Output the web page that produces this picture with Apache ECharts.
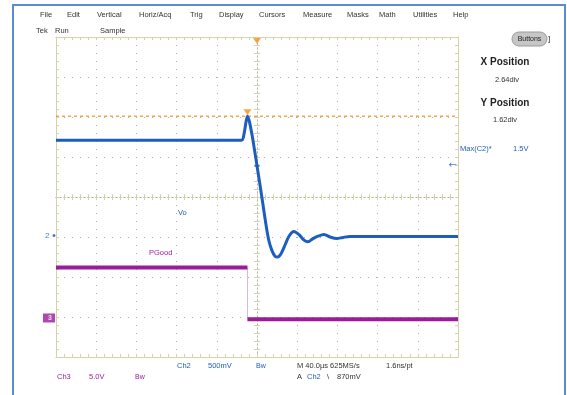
<!DOCTYPE html>
<html><head><meta charset="utf-8">
<script src="https://cdn.jsdelivr.net/npm/echarts@6/dist/echarts.min.js"></script>
<style>html,body{margin:0;padding:0;background:#fff}#c{width:567px;height:395px}</style>
</head><body><div id="c"></div>
<script>
// ---- data (time in µs relative to trigger, 40 µs/div) ----
const timeMin = -200, timeMax = 200, timeDiv = 40;
// Ch2 : Vo (volts), 500 mV/div
const voTime = [-200, -15.4, -12.9, -10.9, -9.5, -7.5, -5.0, -2.5, 0, 3.0, 6.0, 9.0, 11.9, 14.9, 17.9, 20.6, 23.9, 27.9, 31.8, 36.8, 41.8, 46.8, 50.7, 55.7, 60.7, 66.7, 72.6, 79.3, 85.6, 92.5, 200];
const voVolt = [1.19, 1.19, 1.27, 1.42, 1.49, 1.42, 1.26, 1.07, 0.87, 0.63, 0.38, 0.13, -0.07, -0.19, -0.26, -0.27, -0.23, -0.12, -0.01, 0.05, 0.01, -0.06, -0.08, -0.04, -0.01, 0.01, -0.02, -0.04, -0.025, -0.013, -0.015];
// Ch3 : PGood (volts), 5 V/div
const pgHighTime = [-200, -9.5];
const pgHighVolt = [6.3, 6.3];
const pgLowTime = [-9.5, 200];
const pgLowVolt = [-0.15, -0.15];
const pgEdgeTime = [-9.5, -9.5];
const pgEdgeVolt = [6.3, -0.15];
// cursor / trigger
const maxC2 = 1.49;        // Max(C2) ≈ 1.5 V
const trigLevel = 0.87;    // A Ch2 falling 870 mV
const peakTime = -9.5;
// vertical scales (divisions and channel offsets)
const divMin = -4, divMax = 4;
const ch2Min = -1.52, ch2Max = 2.48;
const ch3Min = -4.875, ch3Max = 35.125;

const BORDER = '#d6d3a9', DOT = '#b4b2a2', BLUE = '#1d5dbf', PURPLE = '#9c1b9b', ORANGE = '#f29022';
const zip = (a, b) => a.map((v, i) => [v, b[i]]);
const FONT = '"Liberation Sans", Arial, sans-serif';

function xAx(grid, pos, opts) {
  return Object.assign({
    type: 'value', gridIndex: grid, position: pos, min: timeMin, max: timeMax, interval: timeDiv,
    axisLabel: { show: false },
    axisLine: { show: true, onZero: false, lineStyle: { color: BORDER, width: 1 } },
    axisTick: { show: true, inside: true, length: 3, lineStyle: { color: BORDER } },
    minorTick: { show: true, splitNumber: 5, length: 3, lineStyle: { color: BORDER } },
    splitLine: { show: false }
  }, opts);
}
function yAx(grid, pos, opts) {
  return Object.assign({
    type: 'value', gridIndex: grid, position: pos, min: divMin, max: divMax, interval: 1,
    axisLabel: { show: false },
    axisLine: { show: true, onZero: false, lineStyle: { color: BORDER, width: 1 } },
    axisTick: { show: true, inside: true, length: 3, lineStyle: { color: BORDER } },
    minorTick: { show: true, splitNumber: 5, length: 3, lineStyle: { color: BORDER } },
    splitLine: { show: false }
  }, opts);
}
const dotted = { show: true, lineStyle: { color: DOT, width: 1, type: [1, 7], dashOffset: 0 } };
const centerLine = (inside) => ({ show: true, onZero: true, lineStyle: { color: DOT, width: 1, type: [1, 3] } });

const rect = { left: 56, top: 37, width: 402, height: 320 };

function txt(x, y, text, color, size, opts) {
  return Object.assign({
    type: 'text', x: x, y: y, silent: true,
    style: Object.assign({ text: text, fill: color || '#333', font: (size || 7.5) + 'px ' + FONT, align: 'left', verticalAlign: 'middle' }, {})
  }, opts || {});
}
function txtB(x, y, text, size, align) {
  const t = txt(x, y, text, '#222', size);
  t.style.font = 'bold ' + size + 'px ' + FONT;
  t.style.align = align || 'left';
  return t;
}

const graphics = [
  { type: 'polyline', silent: true, shape: { points: [[13, 395], [13, 5], [565, 5], [565, 395]] }, style: { stroke: '#5b8bd0', lineWidth: 2, fill: null } },
  txt(40, 15, 'File'), txt(67, 15, 'Edit'), txt(97, 15, 'Vertical'), txt(139, 15, 'Horiz/Acq'),
  txt(190, 15, 'Trig'), txt(219, 15, 'Display'), txt(259, 15, 'Cursors'), txt(303, 15, 'Measure'),
  txt(347, 15, 'Masks'), txt(379, 15, 'Math'), txt(413, 15, 'Utilities'), txt(453, 15, 'Help'),
  txt(36, 31, 'Tek'), txt(55, 31, 'Run'), txt(100, 31, 'Sample'),
  { type: 'rect', silent: true, shape: { x: 512, y: 32, width: 35, height: 14, r: 7 }, style: { fill: '#c6c6c6', stroke: '#9a9a9a', lineWidth: 1 } },
  (function () { const t = txt(529.5, 39, 'Buttons', '#222', 7); t.style.align = 'center'; return t; })(),
  txt(548, 39, ']', '#222', 8),
  txtB(505, 62, 'X Position', 10, 'center'),
  (function () { const t = txt(507, 80, '2.64div', '#333', 7.5); t.style.align = 'center'; return t; })(),
  txtB(505, 103, 'Y Position', 10, 'center'),
  (function () { const t = txt(505, 120, '1.62div', '#333', 7.5); t.style.align = 'center'; return t; })(),
  txt(460, 149, 'Max(C2)*', BLUE, 7.5), txt(513, 149, '1.5V', BLUE, 7.5),
  txt(178, 213, 'Vo', BLUE, 7.5), txt(149, 253, 'PGood', PURPLE, 7.5),
  txt(57, 377, 'Ch3', PURPLE, 7.5), txt(89, 377, '5.0V', PURPLE, 7.5), txt(135, 377, 'Bw', PURPLE, 7),
  txt(177, 366, 'Ch2', BLUE, 7.5), txt(208, 366, '500mV', BLUE, 7.5), txt(256, 366, 'Bw', BLUE, 7),
  txt(297, 366, 'M 40.0µs 625MS/s', '#333', 7.5), txt(386, 366, '1.6ns/pt', '#333', 7.5),
  txt(297, 377, 'A', '#333', 7.5), txt(307, 377, 'Ch2', BLUE, 7.5), txt(327, 377, '\\', '#333', 7.5), txt(337, 377, '870mV', '#333', 7.5)
];

const option = {
  animation: false,
  backgroundColor: '#ffffff',
  grid: [Object.assign({}, rect), Object.assign({}, rect), Object.assign({}, rect)],
  xAxis: [
    xAx(0, 'bottom', { splitLine: dotted }),
    xAx(0, 'top', {}),
    xAx(1, 'bottom', { axisLine: centerLine(true), axisTick: { show: true, inside: true, length: 3, lineStyle: { color: BORDER } } }),
    xAx(2, 'bottom', { axisLine: centerLine(false), axisTick: { show: true, inside: false, length: 3, lineStyle: { color: BORDER } } })
  ],
  yAxis: [
    yAx(0, 'left', { splitLine: dotted }),
    yAx(0, 'right', {}),
    { type: 'value', gridIndex: 0, show: false, min: ch2Min, max: ch2Max, axisLine: { onZero: false } },
    { type: 'value', gridIndex: 0, show: false, min: ch3Min, max: ch3Max, axisLine: { onZero: false } },
    yAx(1, 'left', { axisLine: centerLine(true), axisTick: { show: true, inside: true, length: 3, lineStyle: { color: BORDER } } }),
    yAx(2, 'left', { axisLine: centerLine(false), axisTick: { show: true, inside: false, length: 3, lineStyle: { color: BORDER } } })
  ],
  series: [
    { type: 'line', xAxisIndex: 0, yAxisIndex: 2, data: zip([timeMin, timeMax], [maxC2, maxC2]), symbol: 'none', silent: true,
      lineStyle: { color: ORANGE, width: 1.2, type: [3, 3] } },
    { type: 'line', xAxisIndex: 0, yAxisIndex: 3, data: zip(pgEdgeTime, pgEdgeVolt), symbol: 'none', silent: true,
      lineStyle: { color: '#d7b6d7', width: 1 } },
    { type: 'line', xAxisIndex: 0, yAxisIndex: 3, data: zip(pgHighTime, pgHighVolt), symbol: 'none', silent: true,
      lineStyle: { color: PURPLE, width: 4 } },
    { type: 'line', xAxisIndex: 0, yAxisIndex: 3, data: zip(pgLowTime, pgLowVolt), symbol: 'none', silent: true,
      lineStyle: { color: PURPLE, width: 4 } },
    { type: 'line', xAxisIndex: 0, yAxisIndex: 2, data: zip(voTime, voVolt), symbol: 'none', silent: true, smooth: 0.3,
      lineStyle: { color: BLUE, width: 3 } },
    // markers
    { type: 'scatter', xAxisIndex: 0, yAxisIndex: 2, silent: true, clip: false, z: 5,
      data: [[peakTime, maxC2]], symbol: 'triangle', symbolRotate: 180, symbolSize: [8, 6], symbolOffset: [0, -4],
      itemStyle: { color: ORANGE } },
    { type: 'scatter', xAxisIndex: 0, yAxisIndex: 2, silent: true, clip: false, z: 5,
      data: [[0, ch2Max]], symbol: 'triangle', symbolRotate: 180, symbolSize: [8, 6], symbolOffset: [0, 4],
      itemStyle: { color: ORANGE } },
    { type: 'scatter', xAxisIndex: 0, yAxisIndex: 2, silent: true, clip: false, z: 5,
      data: [[0, trigLevel]], symbol: 'rect', symbolSize: [5, 2], itemStyle: { color: BLUE } },
    { type: 'scatter', xAxisIndex: 0, yAxisIndex: 2, silent: true, clip: false, z: 5,
      data: [[timeMax, trigLevel]], symbol: 'circle', symbolSize: 0,
      label: { show: true, position: 'left', distance: 1, formatter: '←', color: BLUE, fontSize: 10, fontFamily: 'DejaVu Sans' } },
    { type: 'scatter', xAxisIndex: 0, yAxisIndex: 2, silent: true, clip: false, z: 5,
      data: [[timeMin, 0]], symbol: 'circle', symbolSize: 3, symbolOffset: [-2, 0], itemStyle: { color: BLUE },
      label: { show: true, position: 'left', distance: 3, formatter: '2', color: BLUE, fontSize: 8, fontFamily: FONT } },
    { type: 'scatter', xAxisIndex: 0, yAxisIndex: 3, silent: true, clip: false, z: 5,
      data: [[timeMin, 0]], symbol: 'rect', symbolSize: [12, 9], symbolOffset: [-7, 0], itemStyle: { color: PURPLE },
      label: { show: true, position: 'left', distance: -9, formatter: '3', color: '#ffffff', fontSize: 7, fontWeight: 'bold', fontFamily: FONT } }
  ],
  graphic: graphics
};
const chart = echarts.init(document.getElementById('c'));
chart.setOption(option);
</script>
</body></html>
